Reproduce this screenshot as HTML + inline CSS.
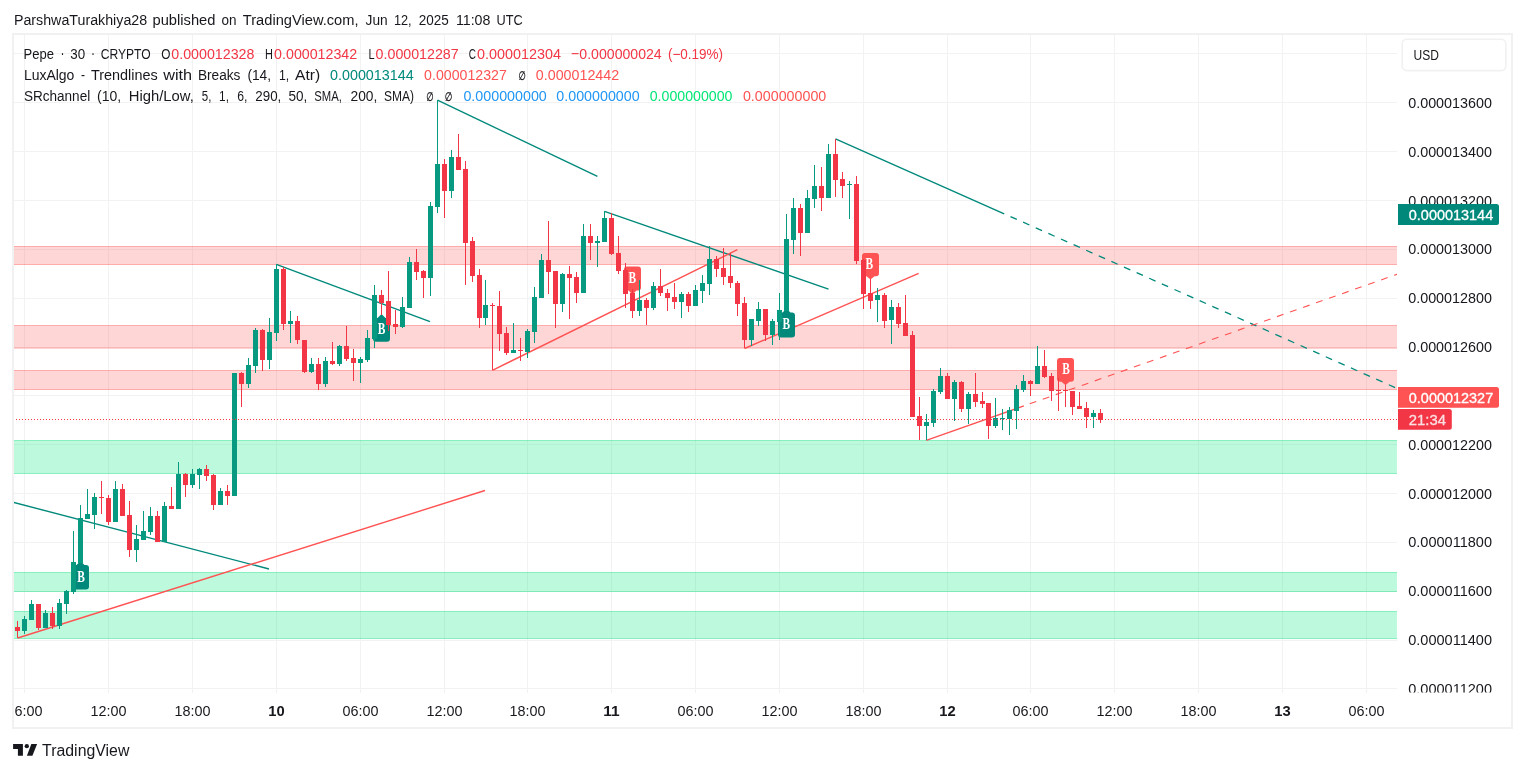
<!DOCTYPE html>
<html lang="en"><head><meta charset="utf-8"><title>Pepe 30 CRYPTO - TradingView</title>
<style>html,body{margin:0;padding:0;background:#fff;}body{width:1525px;height:772px;overflow:hidden;}svg{display:block;}text{font-family:'Liberation Sans', sans-serif;}</style>
</head><body>
<svg width="1525" height="772" viewBox="0 0 1525 772">
<defs><clipPath id="plot"><rect x="14" y="35" width="1383" height="657.6"/></clipPath>
<clipPath id="taxis"><rect x="14" y="692.6" width="1497" height="34.4"/></clipPath>
<clipPath id="paxis"><rect x="1397" y="35" width="114" height="657.6"/></clipPath></defs>
<rect x="0" y="0" width="1525" height="772" fill="#ffffff"/>
<g stroke="#f2f2f2" stroke-width="1" shape-rendering="crispEdges">
<line x1="14" y1="53.5" x2="1397" y2="53.5"/>
<line x1="14" y1="102.5" x2="1397" y2="102.5"/>
<line x1="14" y1="151.5" x2="1397" y2="151.5"/>
<line x1="14" y1="200.5" x2="1397" y2="200.5"/>
<line x1="14" y1="249.5" x2="1397" y2="249.5"/>
<line x1="14" y1="298.5" x2="1397" y2="298.5"/>
<line x1="14" y1="347.5" x2="1397" y2="347.5"/>
<line x1="14" y1="395.5" x2="1397" y2="395.5"/>
<line x1="14" y1="444.5" x2="1397" y2="444.5"/>
<line x1="14" y1="493.5" x2="1397" y2="493.5"/>
<line x1="14" y1="542.5" x2="1397" y2="542.5"/>
<line x1="14" y1="591.5" x2="1397" y2="591.5"/>
<line x1="14" y1="640.5" x2="1397" y2="640.5"/>
<line x1="24.5" y1="35" x2="24.5" y2="692.6"/>
<line x1="108.5" y1="35" x2="108.5" y2="692.6"/>
<line x1="192.5" y1="35" x2="192.5" y2="692.6"/>
<line x1="276.5" y1="35" x2="276.5" y2="692.6"/>
<line x1="360.5" y1="35" x2="360.5" y2="692.6"/>
<line x1="444.5" y1="35" x2="444.5" y2="692.6"/>
<line x1="527.5" y1="35" x2="527.5" y2="692.6"/>
<line x1="611.5" y1="35" x2="611.5" y2="692.6"/>
<line x1="695.5" y1="35" x2="695.5" y2="692.6"/>
<line x1="779.5" y1="35" x2="779.5" y2="692.6"/>
<line x1="863.5" y1="35" x2="863.5" y2="692.6"/>
<line x1="947.5" y1="35" x2="947.5" y2="692.6"/>
<line x1="1030.5" y1="35" x2="1030.5" y2="692.6"/>
<line x1="1114.5" y1="35" x2="1114.5" y2="692.6"/>
<line x1="1198.5" y1="35" x2="1198.5" y2="692.6"/>
<line x1="1282.5" y1="35" x2="1282.5" y2="692.6"/>
<line x1="1366.5" y1="35" x2="1366.5" y2="692.6"/>
<line x1="14" y1="688.5" x2="1397" y2="688.5"/>
</g>
<g clip-path="url(#plot)">
<rect x="0" y="246.0" width="1397" height="19.0" fill="rgba(255,82,82,0.24)"/>
<line x1="0" y1="246.5" x2="1397" y2="246.5" stroke="rgba(255,82,82,0.32)" stroke-width="1"/>
<line x1="0" y1="264.5" x2="1397" y2="264.5" stroke="rgba(255,82,82,0.32)" stroke-width="1"/>
<rect x="0" y="325.0" width="1397" height="23.5" fill="rgba(255,82,82,0.24)"/>
<line x1="0" y1="325.5" x2="1397" y2="325.5" stroke="rgba(255,82,82,0.32)" stroke-width="1"/>
<line x1="0" y1="348.0" x2="1397" y2="348.0" stroke="rgba(255,82,82,0.32)" stroke-width="1"/>
<rect x="0" y="370.0" width="1397" height="20.0" fill="rgba(255,82,82,0.24)"/>
<line x1="0" y1="370.5" x2="1397" y2="370.5" stroke="rgba(255,82,82,0.32)" stroke-width="1"/>
<line x1="0" y1="389.5" x2="1397" y2="389.5" stroke="rgba(255,82,82,0.32)" stroke-width="1"/>
<rect x="0" y="440.0" width="1397" height="34.0" fill="rgba(0,230,118,0.26)"/>
<line x1="0" y1="440.5" x2="1397" y2="440.5" stroke="rgba(0,220,118,0.28)" stroke-width="1"/>
<line x1="0" y1="473.5" x2="1397" y2="473.5" stroke="rgba(0,220,118,0.28)" stroke-width="1"/>
<rect x="0" y="572.0" width="1397" height="20.0" fill="rgba(0,230,118,0.26)"/>
<line x1="0" y1="572.5" x2="1397" y2="572.5" stroke="rgba(0,220,118,0.28)" stroke-width="1"/>
<line x1="0" y1="591.5" x2="1397" y2="591.5" stroke="rgba(0,220,118,0.28)" stroke-width="1"/>
<rect x="0" y="611.0" width="1397" height="28.0" fill="rgba(0,230,118,0.26)"/>
<line x1="0" y1="611.5" x2="1397" y2="611.5" stroke="rgba(0,220,118,0.28)" stroke-width="1"/>
<line x1="0" y1="638.5" x2="1397" y2="638.5" stroke="rgba(0,220,118,0.28)" stroke-width="1"/>
<line x1="12.0" y1="502.0" x2="269.0" y2="569.0" stroke="#00897b" stroke-width="1.4" stroke-linecap="butt"/>
<line x1="276.3" y1="264.4" x2="430.0" y2="321.6" stroke="#00897b" stroke-width="1.4" stroke-linecap="butt"/>
<line x1="437.5" y1="100.2" x2="597.4" y2="176.3" stroke="#00897b" stroke-width="1.4" stroke-linecap="butt"/>
<line x1="604.5" y1="211.3" x2="828.5" y2="289.2" stroke="#00897b" stroke-width="1.4" stroke-linecap="butt"/>
<line x1="835.5" y1="138.8" x2="1004.2" y2="213.8" stroke="#00897b" stroke-width="1.4" stroke-linecap="butt"/>
<line x1="1004.2" y1="213.8" x2="1397.0" y2="388.4" stroke="#00897b" stroke-width="1.3" stroke-linecap="butt" stroke-dasharray="6.9 6.9" stroke-dashoffset="6.9"/>
<line x1="17.7" y1="638.0" x2="485.0" y2="490.5" stroke="#ff5252" stroke-width="1.4" stroke-linecap="butt"/>
<line x1="492.4" y1="370.3" x2="737.4" y2="249.7" stroke="#ff5252" stroke-width="1.4" stroke-linecap="butt"/>
<line x1="744.5" y1="348.5" x2="918.7" y2="273.4" stroke="#ff5252" stroke-width="1.4" stroke-linecap="butt"/>
<line x1="926.3" y1="440.4" x2="1023.8" y2="405.9" stroke="#ff5252" stroke-width="1.4" stroke-linecap="butt"/>
<line x1="1023.8" y1="405.9" x2="1397.0" y2="274.3" stroke="#ff5252" stroke-width="1.1" stroke-linecap="butt" stroke-dasharray="6.9 6.9" stroke-dashoffset="7.5"/>
<path d="M76.5 564.9 L80.5 561.0 L84.5 564.9 L86.0 564.9 Q89.0 564.9 89.0 567.9 L89.0 586.5 Q89.0 589.5 86.0 589.5 L75.0 589.5 Q72.0 589.5 72.0 586.5 L72.0 567.9 Q72.0 564.9 75.0 564.9 Z" fill="#00897b"/>
<text x="77.3" y="582.0" font-size="16" font-weight="bold" fill="#fff" style="font-family:'Liberation Serif',serif" textLength="7.6" lengthAdjust="spacingAndGlyphs">B</text>
<path d="M377.5 318.1 L381.5 314.0 L385.5 318.1 L387.0 318.1 Q390.0 318.1 390.0 321.1 L390.0 338.8 Q390.0 341.8 387.0 341.8 L376.0 341.8 Q373.0 341.8 373.0 338.8 L373.0 321.1 Q373.0 318.1 376.0 318.1 Z" fill="#00897b"/>
<text x="377.7" y="334.0" font-size="16" font-weight="bold" fill="#fff" style="font-family:'Liberation Serif',serif" textLength="7.6" lengthAdjust="spacingAndGlyphs">B</text>
<path d="M782.5 312.6 L786.5 308.8 L790.5 312.6 L792.0 312.6 Q795.0 312.6 795.0 315.6 L795.0 334.6 Q795.0 337.6 792.0 337.6 L781.0 337.6 Q778.0 337.6 778.0 334.6 L778.0 315.6 Q778.0 312.6 781.0 312.6 Z" fill="#00897b"/>
<text x="782.4" y="328.6" font-size="16" font-weight="bold" fill="#fff" style="font-family:'Liberation Serif',serif" textLength="7.6" lengthAdjust="spacingAndGlyphs">B</text>
<path d="M627.0 266.4 L638.0 266.4 Q641.0 266.4 641.0 269.4 L641.0 287.6 Q641.0 290.6 638.0 290.6 L636.5 290.6 L632.5 294.4 L628.5 290.6 L627.0 290.6 Q624.0 290.6 624.0 287.6 L624.0 269.4 Q624.0 266.4 627.0 266.4 Z" fill="#ff5252"/>
<text x="628.6" y="282.5" font-size="16" font-weight="bold" fill="#fff" style="font-family:'Liberation Serif',serif" textLength="7.6" lengthAdjust="spacingAndGlyphs">B</text>
<path d="M865.0 253.0 L876.0 253.0 Q879.0 253.0 879.0 256.0 L879.0 273.2 Q879.0 276.2 876.0 276.2 L874.5 276.2 L870.5 279.6 L866.5 276.2 L865.0 276.2 Q862.0 276.2 862.0 273.2 L862.0 256.0 Q862.0 253.0 865.0 253.0 Z" fill="#ff5252"/>
<text x="865.5" y="268.6" font-size="16" font-weight="bold" fill="#fff" style="font-family:'Liberation Serif',serif" textLength="7.6" lengthAdjust="spacingAndGlyphs">B</text>
<path d="M1060.0 358.1 L1071.0 358.1 Q1074.0 358.1 1074.0 361.1 L1074.0 378.7 Q1074.0 381.7 1071.0 381.7 L1069.5 381.7 L1065.5 385.2 L1061.5 381.7 L1060.0 381.7 Q1057.0 381.7 1057.0 378.7 L1057.0 361.1 Q1057.0 358.1 1060.0 358.1 Z" fill="#ff5252"/>
<text x="1062.3" y="374.0" font-size="16" font-weight="bold" fill="#fff" style="font-family:'Liberation Serif',serif" textLength="7.6" lengthAdjust="spacingAndGlyphs">B</text>
<rect x="17" y="621" width="1" height="17" fill="#f23645"/>
<rect x="15" y="627" width="5" height="4" fill="#f23645"/>
<rect x="24" y="616" width="1" height="18" fill="#089981"/>
<rect x="22" y="619" width="5" height="12" fill="#089981"/>
<rect x="31" y="600" width="1" height="20" fill="#089981"/>
<rect x="29" y="604" width="5" height="16" fill="#089981"/>
<rect x="38" y="604" width="1" height="26" fill="#f23645"/>
<rect x="36" y="604" width="5" height="24" fill="#f23645"/>
<rect x="45" y="610" width="1" height="18" fill="#089981"/>
<rect x="43" y="613" width="5" height="15" fill="#089981"/>
<rect x="52" y="607" width="1" height="22" fill="#f23645"/>
<rect x="50" y="613" width="5" height="13" fill="#f23645"/>
<rect x="59" y="599" width="1" height="30" fill="#089981"/>
<rect x="57" y="603" width="5" height="23" fill="#089981"/>
<rect x="66" y="590" width="1" height="24" fill="#089981"/>
<rect x="64" y="591" width="5" height="13" fill="#089981"/>
<rect x="73" y="531" width="1" height="63" fill="#089981"/>
<rect x="71" y="562" width="5" height="30" fill="#089981"/>
<rect x="80" y="505" width="1" height="58" fill="#089981"/>
<rect x="78" y="518" width="5" height="45" fill="#089981"/>
<rect x="87" y="489" width="1" height="30" fill="#089981"/>
<rect x="85" y="514" width="5" height="5" fill="#089981"/>
<rect x="94" y="493" width="1" height="36" fill="#089981"/>
<rect x="92" y="497" width="5" height="18" fill="#089981"/>
<rect x="101" y="481" width="1" height="33" fill="#f23645"/>
<rect x="99" y="497" width="5" height="1" fill="#f23645"/>
<rect x="108" y="495" width="1" height="30" fill="#f23645"/>
<rect x="106" y="498" width="5" height="24" fill="#f23645"/>
<rect x="115" y="481" width="1" height="41" fill="#089981"/>
<rect x="113" y="489" width="5" height="33" fill="#089981"/>
<rect x="122" y="484" width="1" height="32" fill="#f23645"/>
<rect x="120" y="489" width="5" height="27" fill="#f23645"/>
<rect x="129" y="501" width="1" height="56" fill="#f23645"/>
<rect x="127" y="515" width="5" height="35" fill="#f23645"/>
<rect x="136" y="525" width="1" height="37" fill="#089981"/>
<rect x="134" y="539" width="5" height="11" fill="#089981"/>
<rect x="143" y="511" width="1" height="29" fill="#089981"/>
<rect x="141" y="531" width="5" height="9" fill="#089981"/>
<rect x="150" y="507" width="1" height="28" fill="#089981"/>
<rect x="148" y="516" width="5" height="16" fill="#089981"/>
<rect x="157" y="511" width="1" height="31" fill="#f23645"/>
<rect x="155" y="516" width="5" height="26" fill="#f23645"/>
<rect x="164" y="502" width="1" height="40" fill="#089981"/>
<rect x="162" y="506" width="5" height="36" fill="#089981"/>
<rect x="171" y="487" width="1" height="22" fill="#f23645"/>
<rect x="169" y="506" width="5" height="3" fill="#f23645"/>
<rect x="178" y="462" width="1" height="47" fill="#089981"/>
<rect x="176" y="474" width="5" height="35" fill="#089981"/>
<rect x="185" y="473" width="1" height="24" fill="#f23645"/>
<rect x="183" y="474" width="5" height="11" fill="#f23645"/>
<rect x="192" y="469" width="1" height="19" fill="#089981"/>
<rect x="190" y="474" width="5" height="11" fill="#089981"/>
<rect x="199" y="468" width="1" height="21" fill="#089981"/>
<rect x="197" y="469" width="5" height="6" fill="#089981"/>
<rect x="206" y="465" width="1" height="16" fill="#f23645"/>
<rect x="204" y="469" width="5" height="7" fill="#f23645"/>
<rect x="213" y="474" width="1" height="36" fill="#f23645"/>
<rect x="211" y="475" width="5" height="30" fill="#f23645"/>
<rect x="220" y="488" width="1" height="17" fill="#089981"/>
<rect x="218" y="491" width="5" height="14" fill="#089981"/>
<rect x="227" y="485" width="1" height="20" fill="#f23645"/>
<rect x="225" y="491" width="5" height="5" fill="#f23645"/>
<rect x="234" y="373" width="1" height="123" fill="#089981"/>
<rect x="232" y="373" width="5" height="123" fill="#089981"/>
<rect x="241" y="372" width="1" height="35" fill="#f23645"/>
<rect x="239" y="373" width="5" height="11" fill="#f23645"/>
<rect x="248" y="358" width="1" height="30" fill="#089981"/>
<rect x="246" y="365" width="5" height="19" fill="#089981"/>
<rect x="255" y="328" width="1" height="45" fill="#089981"/>
<rect x="253" y="330" width="5" height="36" fill="#089981"/>
<rect x="262" y="329" width="1" height="42" fill="#f23645"/>
<rect x="260" y="330" width="5" height="30" fill="#f23645"/>
<rect x="269" y="318" width="1" height="51" fill="#089981"/>
<rect x="267" y="332" width="5" height="28" fill="#089981"/>
<rect x="276" y="264" width="1" height="77" fill="#089981"/>
<rect x="274" y="269" width="5" height="64" fill="#089981"/>
<rect x="283" y="267" width="1" height="63" fill="#f23645"/>
<rect x="281" y="269" width="5" height="55" fill="#f23645"/>
<rect x="290" y="311" width="1" height="32" fill="#089981"/>
<rect x="288" y="321" width="5" height="3" fill="#089981"/>
<rect x="297" y="316" width="1" height="28" fill="#f23645"/>
<rect x="295" y="321" width="5" height="19" fill="#f23645"/>
<rect x="304" y="340" width="1" height="33" fill="#f23645"/>
<rect x="302" y="340" width="5" height="32" fill="#f23645"/>
<rect x="311" y="358" width="1" height="15" fill="#089981"/>
<rect x="309" y="364" width="5" height="8" fill="#089981"/>
<rect x="318" y="358" width="1" height="32" fill="#f23645"/>
<rect x="316" y="364" width="5" height="20" fill="#f23645"/>
<rect x="325" y="357" width="1" height="30" fill="#089981"/>
<rect x="323" y="361" width="5" height="23" fill="#089981"/>
<rect x="332" y="342" width="1" height="23" fill="#f23645"/>
<rect x="330" y="361" width="5" height="3" fill="#f23645"/>
<rect x="339" y="345" width="1" height="21" fill="#089981"/>
<rect x="337" y="346" width="5" height="18" fill="#089981"/>
<rect x="346" y="326" width="1" height="35" fill="#f23645"/>
<rect x="344" y="346" width="5" height="13" fill="#f23645"/>
<rect x="353" y="349" width="1" height="32" fill="#f23645"/>
<rect x="351" y="358" width="5" height="5" fill="#f23645"/>
<rect x="360" y="357" width="1" height="26" fill="#089981"/>
<rect x="358" y="359" width="5" height="4" fill="#089981"/>
<rect x="367" y="330" width="1" height="32" fill="#089981"/>
<rect x="365" y="338" width="5" height="22" fill="#089981"/>
<rect x="374" y="285" width="1" height="63" fill="#089981"/>
<rect x="372" y="295" width="5" height="44" fill="#089981"/>
<rect x="381" y="290" width="1" height="25" fill="#f23645"/>
<rect x="379" y="295" width="5" height="8" fill="#f23645"/>
<rect x="388" y="271" width="1" height="60" fill="#f23645"/>
<rect x="386" y="301" width="5" height="24" fill="#f23645"/>
<rect x="395" y="310" width="1" height="24" fill="#f23645"/>
<rect x="393" y="324" width="5" height="3" fill="#f23645"/>
<rect x="402" y="297" width="1" height="31" fill="#089981"/>
<rect x="400" y="307" width="5" height="20" fill="#089981"/>
<rect x="409" y="257" width="1" height="51" fill="#089981"/>
<rect x="407" y="262" width="5" height="46" fill="#089981"/>
<rect x="416" y="249" width="1" height="31" fill="#f23645"/>
<rect x="414" y="262" width="5" height="10" fill="#f23645"/>
<rect x="423" y="270" width="1" height="28" fill="#f23645"/>
<rect x="421" y="271" width="5" height="7" fill="#f23645"/>
<rect x="430" y="202" width="1" height="94" fill="#089981"/>
<rect x="428" y="206" width="5" height="72" fill="#089981"/>
<rect x="437" y="100" width="1" height="113" fill="#089981"/>
<rect x="435" y="164" width="5" height="43" fill="#089981"/>
<rect x="444" y="159" width="1" height="59" fill="#f23645"/>
<rect x="442" y="164" width="5" height="27" fill="#f23645"/>
<rect x="451" y="150" width="1" height="48" fill="#089981"/>
<rect x="449" y="157" width="5" height="34" fill="#089981"/>
<rect x="458" y="134" width="1" height="36" fill="#f23645"/>
<rect x="456" y="157" width="5" height="13" fill="#f23645"/>
<rect x="465" y="161" width="1" height="124" fill="#f23645"/>
<rect x="463" y="169" width="5" height="74" fill="#f23645"/>
<rect x="472" y="237" width="1" height="45" fill="#f23645"/>
<rect x="470" y="241" width="5" height="35" fill="#f23645"/>
<rect x="479" y="269" width="1" height="59" fill="#f23645"/>
<rect x="477" y="275" width="5" height="43" fill="#f23645"/>
<rect x="485" y="280" width="1" height="45" fill="#089981"/>
<rect x="483" y="305" width="5" height="13" fill="#089981"/>
<rect x="492" y="303" width="1" height="67" fill="#f23645"/>
<rect x="490" y="305" width="5" height="1" fill="#f23645"/>
<rect x="499" y="291" width="1" height="60" fill="#f23645"/>
<rect x="497" y="306" width="5" height="28" fill="#f23645"/>
<rect x="506" y="327" width="1" height="28" fill="#f23645"/>
<rect x="504" y="333" width="5" height="20" fill="#f23645"/>
<rect x="513" y="323" width="1" height="30" fill="#089981"/>
<rect x="511" y="350" width="5" height="3" fill="#089981"/>
<rect x="520" y="338" width="1" height="23" fill="#f23645"/>
<rect x="518" y="350" width="5" height="1" fill="#f23645"/>
<rect x="527" y="329" width="1" height="29" fill="#089981"/>
<rect x="525" y="331" width="5" height="21" fill="#089981"/>
<rect x="534" y="287" width="1" height="56" fill="#089981"/>
<rect x="532" y="297" width="5" height="35" fill="#089981"/>
<rect x="541" y="254" width="1" height="44" fill="#089981"/>
<rect x="539" y="260" width="5" height="38" fill="#089981"/>
<rect x="548" y="221" width="1" height="73" fill="#f23645"/>
<rect x="546" y="260" width="5" height="12" fill="#f23645"/>
<rect x="555" y="271" width="1" height="57" fill="#f23645"/>
<rect x="553" y="271" width="5" height="33" fill="#f23645"/>
<rect x="562" y="273" width="1" height="39" fill="#089981"/>
<rect x="560" y="274" width="5" height="30" fill="#089981"/>
<rect x="569" y="266" width="1" height="53" fill="#f23645"/>
<rect x="567" y="274" width="5" height="4" fill="#f23645"/>
<rect x="576" y="272" width="1" height="31" fill="#f23645"/>
<rect x="574" y="277" width="5" height="16" fill="#f23645"/>
<rect x="583" y="224" width="1" height="69" fill="#089981"/>
<rect x="581" y="236" width="5" height="57" fill="#089981"/>
<rect x="590" y="224" width="1" height="36" fill="#f23645"/>
<rect x="588" y="236" width="5" height="7" fill="#f23645"/>
<rect x="597" y="236" width="1" height="31" fill="#089981"/>
<rect x="595" y="241" width="5" height="2" fill="#089981"/>
<rect x="604" y="211" width="1" height="31" fill="#089981"/>
<rect x="602" y="218" width="5" height="24" fill="#089981"/>
<rect x="611" y="213" width="1" height="42" fill="#f23645"/>
<rect x="609" y="218" width="5" height="36" fill="#f23645"/>
<rect x="618" y="236" width="1" height="38" fill="#f23645"/>
<rect x="616" y="253" width="5" height="18" fill="#f23645"/>
<rect x="625" y="263" width="1" height="45" fill="#f23645"/>
<rect x="623" y="270" width="5" height="24" fill="#f23645"/>
<rect x="632" y="289" width="1" height="29" fill="#f23645"/>
<rect x="630" y="293" width="5" height="18" fill="#f23645"/>
<rect x="639" y="280" width="1" height="36" fill="#089981"/>
<rect x="637" y="300" width="5" height="11" fill="#089981"/>
<rect x="646" y="298" width="1" height="27" fill="#f23645"/>
<rect x="644" y="300" width="5" height="8" fill="#f23645"/>
<rect x="653" y="282" width="1" height="28" fill="#089981"/>
<rect x="651" y="286" width="5" height="22" fill="#089981"/>
<rect x="660" y="269" width="1" height="27" fill="#f23645"/>
<rect x="658" y="286" width="5" height="7" fill="#f23645"/>
<rect x="667" y="289" width="1" height="22" fill="#f23645"/>
<rect x="665" y="293" width="5" height="5" fill="#f23645"/>
<rect x="674" y="283" width="1" height="26" fill="#f23645"/>
<rect x="672" y="297" width="5" height="5" fill="#f23645"/>
<rect x="681" y="292" width="1" height="26" fill="#089981"/>
<rect x="679" y="294" width="5" height="8" fill="#089981"/>
<rect x="688" y="292" width="1" height="20" fill="#f23645"/>
<rect x="686" y="294" width="5" height="12" fill="#f23645"/>
<rect x="695" y="285" width="1" height="21" fill="#089981"/>
<rect x="693" y="290" width="5" height="16" fill="#089981"/>
<rect x="702" y="275" width="1" height="28" fill="#089981"/>
<rect x="700" y="283" width="5" height="8" fill="#089981"/>
<rect x="709" y="246" width="1" height="49" fill="#089981"/>
<rect x="707" y="259" width="5" height="25" fill="#089981"/>
<rect x="716" y="256" width="1" height="21" fill="#f23645"/>
<rect x="714" y="259" width="5" height="10" fill="#f23645"/>
<rect x="723" y="248" width="1" height="37" fill="#f23645"/>
<rect x="721" y="268" width="5" height="9" fill="#f23645"/>
<rect x="730" y="253" width="1" height="35" fill="#f23645"/>
<rect x="728" y="276" width="5" height="7" fill="#f23645"/>
<rect x="737" y="281" width="1" height="35" fill="#f23645"/>
<rect x="735" y="283" width="5" height="21" fill="#f23645"/>
<rect x="744" y="297" width="1" height="51" fill="#f23645"/>
<rect x="742" y="303" width="5" height="37" fill="#f23645"/>
<rect x="751" y="319" width="1" height="27" fill="#089981"/>
<rect x="749" y="319" width="5" height="21" fill="#089981"/>
<rect x="758" y="302" width="1" height="24" fill="#089981"/>
<rect x="756" y="309" width="5" height="12" fill="#089981"/>
<rect x="765" y="309" width="1" height="32" fill="#f23645"/>
<rect x="763" y="309" width="5" height="26" fill="#f23645"/>
<rect x="772" y="319" width="1" height="26" fill="#089981"/>
<rect x="770" y="321" width="5" height="14" fill="#089981"/>
<rect x="779" y="293" width="1" height="47" fill="#089981"/>
<rect x="777" y="310" width="5" height="12" fill="#089981"/>
<rect x="786" y="214" width="1" height="97" fill="#089981"/>
<rect x="784" y="239" width="5" height="72" fill="#089981"/>
<rect x="793" y="198" width="1" height="56" fill="#089981"/>
<rect x="791" y="208" width="5" height="32" fill="#089981"/>
<rect x="800" y="204" width="1" height="52" fill="#f23645"/>
<rect x="798" y="208" width="5" height="25" fill="#f23645"/>
<rect x="807" y="190" width="1" height="43" fill="#089981"/>
<rect x="805" y="198" width="5" height="35" fill="#089981"/>
<rect x="814" y="165" width="1" height="43" fill="#089981"/>
<rect x="812" y="186" width="5" height="13" fill="#089981"/>
<rect x="821" y="167" width="1" height="44" fill="#f23645"/>
<rect x="819" y="186" width="5" height="12" fill="#f23645"/>
<rect x="828" y="144" width="1" height="54" fill="#089981"/>
<rect x="826" y="154" width="5" height="44" fill="#089981"/>
<rect x="835" y="139" width="1" height="58" fill="#f23645"/>
<rect x="833" y="154" width="5" height="26" fill="#f23645"/>
<rect x="842" y="172" width="1" height="26" fill="#f23645"/>
<rect x="840" y="179" width="5" height="7" fill="#f23645"/>
<rect x="849" y="181" width="1" height="38" fill="#089981"/>
<rect x="847" y="184" width="5" height="1" fill="#089981"/>
<rect x="856" y="176" width="1" height="88" fill="#f23645"/>
<rect x="854" y="184" width="5" height="77" fill="#f23645"/>
<rect x="863" y="259" width="1" height="50" fill="#f23645"/>
<rect x="861" y="260" width="5" height="34" fill="#f23645"/>
<rect x="870" y="279" width="1" height="30" fill="#f23645"/>
<rect x="868" y="293" width="5" height="8" fill="#f23645"/>
<rect x="877" y="288" width="1" height="34" fill="#089981"/>
<rect x="875" y="295" width="5" height="5" fill="#089981"/>
<rect x="884" y="293" width="1" height="35" fill="#f23645"/>
<rect x="882" y="295" width="5" height="26" fill="#f23645"/>
<rect x="891" y="300" width="1" height="44" fill="#089981"/>
<rect x="889" y="307" width="5" height="13" fill="#089981"/>
<rect x="898" y="303" width="1" height="25" fill="#f23645"/>
<rect x="896" y="307" width="5" height="17" fill="#f23645"/>
<rect x="905" y="295" width="1" height="41" fill="#f23645"/>
<rect x="903" y="323" width="5" height="13" fill="#f23645"/>
<rect x="912" y="331" width="1" height="86" fill="#f23645"/>
<rect x="910" y="335" width="5" height="82" fill="#f23645"/>
<rect x="919" y="397" width="1" height="43" fill="#f23645"/>
<rect x="917" y="416" width="5" height="10" fill="#f23645"/>
<rect x="926" y="414" width="1" height="26" fill="#089981"/>
<rect x="924" y="422" width="5" height="4" fill="#089981"/>
<rect x="933" y="389" width="1" height="38" fill="#089981"/>
<rect x="931" y="391" width="5" height="32" fill="#089981"/>
<rect x="940" y="368" width="1" height="26" fill="#089981"/>
<rect x="938" y="376" width="5" height="16" fill="#089981"/>
<rect x="947" y="373" width="1" height="26" fill="#f23645"/>
<rect x="945" y="376" width="5" height="23" fill="#f23645"/>
<rect x="954" y="380" width="1" height="41" fill="#089981"/>
<rect x="952" y="382" width="5" height="17" fill="#089981"/>
<rect x="961" y="381" width="1" height="31" fill="#f23645"/>
<rect x="959" y="382" width="5" height="27" fill="#f23645"/>
<rect x="968" y="392" width="1" height="32" fill="#089981"/>
<rect x="966" y="394" width="5" height="15" fill="#089981"/>
<rect x="975" y="373" width="1" height="34" fill="#f23645"/>
<rect x="973" y="394" width="5" height="8" fill="#f23645"/>
<rect x="982" y="392" width="1" height="16" fill="#f23645"/>
<rect x="980" y="401" width="5" height="3" fill="#f23645"/>
<rect x="988" y="403" width="1" height="36" fill="#f23645"/>
<rect x="986" y="403" width="5" height="23" fill="#f23645"/>
<rect x="995" y="398" width="1" height="30" fill="#089981"/>
<rect x="993" y="418" width="5" height="8" fill="#089981"/>
<rect x="1002" y="409" width="1" height="21" fill="#089981"/>
<rect x="1000" y="418" width="5" height="1" fill="#089981"/>
<rect x="1009" y="407" width="1" height="28" fill="#089981"/>
<rect x="1007" y="410" width="5" height="9" fill="#089981"/>
<rect x="1016" y="385" width="1" height="44" fill="#089981"/>
<rect x="1014" y="389" width="5" height="22" fill="#089981"/>
<rect x="1023" y="375" width="1" height="17" fill="#089981"/>
<rect x="1021" y="381" width="5" height="9" fill="#089981"/>
<rect x="1030" y="380" width="1" height="16" fill="#f23645"/>
<rect x="1028" y="381" width="5" height="3" fill="#f23645"/>
<rect x="1037" y="346" width="1" height="38" fill="#089981"/>
<rect x="1035" y="366" width="5" height="18" fill="#089981"/>
<rect x="1044" y="350" width="1" height="28" fill="#f23645"/>
<rect x="1042" y="366" width="5" height="11" fill="#f23645"/>
<rect x="1051" y="373" width="1" height="28" fill="#f23645"/>
<rect x="1049" y="376" width="5" height="15" fill="#f23645"/>
<rect x="1058" y="378" width="1" height="33" fill="#f23645"/>
<rect x="1056" y="390" width="5" height="1" fill="#f23645"/>
<rect x="1065" y="385" width="1" height="22" fill="#f23645"/>
<rect x="1063" y="390" width="5" height="1" fill="#f23645"/>
<rect x="1072" y="391" width="1" height="24" fill="#f23645"/>
<rect x="1070" y="391" width="5" height="16" fill="#f23645"/>
<rect x="1079" y="392" width="1" height="17" fill="#f23645"/>
<rect x="1077" y="406" width="5" height="3" fill="#f23645"/>
<rect x="1086" y="402" width="1" height="26" fill="#f23645"/>
<rect x="1084" y="408" width="5" height="9" fill="#f23645"/>
<rect x="1093" y="410" width="1" height="18" fill="#089981"/>
<rect x="1091" y="413" width="5" height="4" fill="#089981"/>
<rect x="1100" y="409" width="1" height="14" fill="#f23645"/>
<rect x="1098" y="413" width="5" height="7" fill="#f23645"/>
<line x1="16" y1="419.5" x2="1397" y2="419.5" stroke="#f23645" stroke-width="1" stroke-dasharray="1 2" shape-rendering="crispEdges"/>
</g>
<rect x="13" y="34" width="1499" height="694" fill="none" stroke="#f1f1f2" stroke-width="2"/>
<g clip-path="url(#paxis)" font-size="15.4" fill="#17181d">
<text x="1408.2" y="107.9" textLength="83.8" lengthAdjust="spacingAndGlyphs">0.000013600</text>
<text x="1408.2" y="156.7" textLength="83.8" lengthAdjust="spacingAndGlyphs">0.000013400</text>
<text x="1408.2" y="205.5" textLength="83.8" lengthAdjust="spacingAndGlyphs">0.000013200</text>
<text x="1408.2" y="254.4" textLength="83.8" lengthAdjust="spacingAndGlyphs">0.000013000</text>
<text x="1408.2" y="303.2" textLength="83.8" lengthAdjust="spacingAndGlyphs">0.000012800</text>
<text x="1408.2" y="352.0" textLength="83.8" lengthAdjust="spacingAndGlyphs">0.000012600</text>
<text x="1408.2" y="449.6" textLength="83.8" lengthAdjust="spacingAndGlyphs">0.000012200</text>
<text x="1408.2" y="498.5" textLength="83.8" lengthAdjust="spacingAndGlyphs">0.000012000</text>
<text x="1408.2" y="547.3" textLength="83.8" lengthAdjust="spacingAndGlyphs">0.000011800</text>
<text x="1408.2" y="596.1" textLength="83.8" lengthAdjust="spacingAndGlyphs">0.000011600</text>
<text x="1408.2" y="644.9" textLength="83.8" lengthAdjust="spacingAndGlyphs">0.000011400</text>
<text x="1408.2" y="693.7" textLength="83.8" lengthAdjust="spacingAndGlyphs">0.000011200</text>
</g>
<path d="M1398.0 204.0 L1496.5 204.0 Q1499.0 204.0 1499.0 206.5 L1499.0 222.5 Q1499.0 225.0 1496.5 225.0 L1398.0 225.0 Z" fill="#00897b"/>
<text x="1408.8" y="219.8" font-size="15.4" fill="#fff" stroke="#fff" stroke-width="0.35" textLength="84.4" lengthAdjust="spacingAndGlyphs">0.000013144</text>
<path d="M1398.0 387.1 L1496.5 387.1 Q1499.0 387.1 1499.0 389.6 L1499.0 405.2 Q1499.0 407.7 1496.5 407.7 L1398.0 407.7 Z" fill="#ff5252"/>
<text x="1408.8" y="402.9" font-size="15.4" fill="#fff" stroke="#fff" stroke-width="0.35" textLength="84.4" lengthAdjust="spacingAndGlyphs">0.000012327</text>
<path d="M1398.0 409.1 L1449.3 409.1 Q1451.8 409.1 1451.8 411.6 L1451.8 427.2 Q1451.8 429.7 1449.3 429.7 L1398.0 429.7 Z" fill="#f23645"/>
<text x="1408.8" y="425.0" font-size="15.4" fill="#fcdfe2" stroke="#fcdfe2" stroke-width="0.3" textLength="37.1" lengthAdjust="spacingAndGlyphs">21:34</text>
<rect x="1402.2" y="39.2" width="103.6" height="31.4" rx="4.5" ry="4.5" fill="#fff" stroke="#f1f1f2" stroke-width="1.6"/>
<text x="1413.6" y="59.9" font-size="15.4" fill="#17181d" textLength="25.4" lengthAdjust="spacingAndGlyphs">USD</text>
<g clip-path="url(#taxis)" font-size="15" fill="#17181d" text-anchor="middle">
<text x="24.5" y="716.2" textLength="36" lengthAdjust="spacingAndGlyphs">06:00</text>
<text x="108.5" y="716.2" textLength="36" lengthAdjust="spacingAndGlyphs">12:00</text>
<text x="192.5" y="716.2" textLength="36" lengthAdjust="spacingAndGlyphs">18:00</text>
<text x="276.5" y="716.2" font-weight="bold" textLength="16.4" lengthAdjust="spacingAndGlyphs">10</text>
<text x="360.5" y="716.2" textLength="36" lengthAdjust="spacingAndGlyphs">06:00</text>
<text x="444.5" y="716.2" textLength="36" lengthAdjust="spacingAndGlyphs">12:00</text>
<text x="527.5" y="716.2" textLength="36" lengthAdjust="spacingAndGlyphs">18:00</text>
<text x="611.5" y="716.2" font-weight="bold" textLength="16.4" lengthAdjust="spacingAndGlyphs">11</text>
<text x="695.5" y="716.2" textLength="36" lengthAdjust="spacingAndGlyphs">06:00</text>
<text x="779.5" y="716.2" textLength="36" lengthAdjust="spacingAndGlyphs">12:00</text>
<text x="863.5" y="716.2" textLength="36" lengthAdjust="spacingAndGlyphs">18:00</text>
<text x="947.5" y="716.2" font-weight="bold" textLength="16.4" lengthAdjust="spacingAndGlyphs">12</text>
<text x="1030.5" y="716.2" textLength="36" lengthAdjust="spacingAndGlyphs">06:00</text>
<text x="1114.5" y="716.2" textLength="36" lengthAdjust="spacingAndGlyphs">12:00</text>
<text x="1198.5" y="716.2" textLength="36" lengthAdjust="spacingAndGlyphs">18:00</text>
<text x="1282.5" y="716.2" font-weight="bold" textLength="16.4" lengthAdjust="spacingAndGlyphs">13</text>
<text x="1366.5" y="716.2" textLength="36" lengthAdjust="spacingAndGlyphs">06:00</text>
</g>
<text y="24.8" font-size="14" fill="#17181d"><tspan x="13.9" textLength="133.3" lengthAdjust="spacingAndGlyphs">ParshwaTurakhiya28</tspan> <tspan x="152.5" textLength="62.9" lengthAdjust="spacingAndGlyphs">published</tspan> <tspan x="221.6" textLength="15.0" lengthAdjust="spacingAndGlyphs">on</tspan> <tspan x="242.8" textLength="115.7" lengthAdjust="spacingAndGlyphs">TradingView.com,</tspan> <tspan x="365.6" textLength="22.1" lengthAdjust="spacingAndGlyphs">Jun</tspan> <tspan x="393.9" textLength="17.7" lengthAdjust="spacingAndGlyphs">12,</tspan> <tspan x="418.7" textLength="30.1" lengthAdjust="spacingAndGlyphs">2025</tspan> <tspan x="455.9" textLength="34.5" lengthAdjust="spacingAndGlyphs">11:08</tspan> <tspan x="496.6" textLength="26.2" lengthAdjust="spacingAndGlyphs">UTC</tspan></text>
<text y="58.5" font-size="14" fill="#17181d"><tspan x="23.6" font-size="14" fill="#17181d" textLength="30.4" lengthAdjust="spacingAndGlyphs">Pepe</tspan> <tspan x="60.5" font-size="16" fill="#17181d" textLength="4.0" lengthAdjust="spacingAndGlyphs">·</tspan> <tspan x="70.2" font-size="14" fill="#17181d" textLength="14.9" lengthAdjust="spacingAndGlyphs">30</tspan> <tspan x="90.9" font-size="16" fill="#17181d" textLength="4.0" lengthAdjust="spacingAndGlyphs">·</tspan> <tspan x="100.7" font-size="14" fill="#17181d" textLength="50.0" lengthAdjust="spacingAndGlyphs">CRYPTO</tspan> <tspan x="161.3" font-size="14" fill="#17181d" textLength="9.2" lengthAdjust="spacingAndGlyphs">O</tspan><tspan x="171.3" font-size="15.4" fill="#f23645" textLength="83.1" lengthAdjust="spacingAndGlyphs">0.000012328</tspan> <tspan x="264.9" font-size="14" fill="#17181d" textLength="7.9" lengthAdjust="spacingAndGlyphs">H</tspan><tspan x="274.1" font-size="15.4" fill="#f23645" textLength="83.1" lengthAdjust="spacingAndGlyphs">0.000012342</tspan> <tspan x="368.5" font-size="14" fill="#17181d" textLength="6.1" lengthAdjust="spacingAndGlyphs">L</tspan><tspan x="375.6" font-size="15.4" fill="#f23645" textLength="83.1" lengthAdjust="spacingAndGlyphs">0.000012287</tspan> <tspan x="468.8" font-size="14" fill="#17181d" textLength="7.2" lengthAdjust="spacingAndGlyphs">C</tspan><tspan x="476.9" font-size="15.4" fill="#f23645" textLength="84.1" lengthAdjust="spacingAndGlyphs">0.000012304</tspan> <tspan x="571.1" font-size="15.4" fill="#f23645" textLength="90.6" lengthAdjust="spacingAndGlyphs">−0.000000024</tspan> <tspan x="668.0" font-size="14" fill="#f23645" textLength="55.1" lengthAdjust="spacingAndGlyphs">(−0.19%)</tspan></text>
<text y="79.8" font-size="14" fill="#17181d"><tspan x="23.9" font-size="14" fill="#17181d" textLength="50.5" lengthAdjust="spacingAndGlyphs">LuxAlgo</tspan> <tspan x="81.0" font-size="14" fill="#17181d" textLength="4.0" lengthAdjust="spacingAndGlyphs">-</tspan> <tspan x="90.9" font-size="14" fill="#17181d" textLength="66.8" lengthAdjust="spacingAndGlyphs">Trendlines</tspan> <tspan x="163.2" font-size="14" fill="#17181d" textLength="28.9" lengthAdjust="spacingAndGlyphs">with</tspan> <tspan x="197.9" font-size="14" fill="#17181d" textLength="42.5" lengthAdjust="spacingAndGlyphs">Breaks</tspan> <tspan x="247.4" font-size="14" fill="#17181d" textLength="23.7" lengthAdjust="spacingAndGlyphs">(14,</tspan> <tspan x="278.9" font-size="14" fill="#17181d" textLength="10.2" lengthAdjust="spacingAndGlyphs">1,</tspan> <tspan x="295.1" font-size="14" fill="#17181d" textLength="25.2" lengthAdjust="spacingAndGlyphs">Atr)</tspan> <tspan x="330.0" font-size="15.4" fill="#00897b" textLength="83.7" lengthAdjust="spacingAndGlyphs">0.000013144</tspan> <tspan x="424.1" font-size="15.4" fill="#ff5252" textLength="82.7" lengthAdjust="spacingAndGlyphs">0.000012327</tspan> <tspan x="518.5" font-size="12" fill="#17181d" textLength="7.1" lengthAdjust="spacingAndGlyphs" font-family="'DejaVu Sans', sans-serif" stroke="#17181d" stroke-width="0.3">∅</tspan> <tspan x="535.8" font-size="15.4" fill="#ff5252" textLength="83.4" lengthAdjust="spacingAndGlyphs">0.000012442</tspan></text>
<text y="100.9" font-size="14" fill="#17181d"><tspan x="23.9" font-size="14" fill="#17181d" textLength="66.3" lengthAdjust="spacingAndGlyphs">SRchannel</tspan> <tspan x="97.1" font-size="14" fill="#17181d" textLength="24.1" lengthAdjust="spacingAndGlyphs">(10,</tspan> <tspan x="128.8" font-size="14" fill="#17181d" textLength="65.0" lengthAdjust="spacingAndGlyphs">High/Low,</tspan> <tspan x="201.8" font-size="14" fill="#17181d" textLength="9.6" lengthAdjust="spacingAndGlyphs">5,</tspan> <tspan x="219.1" font-size="14" fill="#17181d" textLength="9.9" lengthAdjust="spacingAndGlyphs">1,</tspan> <tspan x="237.2" font-size="14" fill="#17181d" textLength="10.2" lengthAdjust="spacingAndGlyphs">6,</tspan> <tspan x="255.3" font-size="14" fill="#17181d" textLength="26.0" lengthAdjust="spacingAndGlyphs">290,</tspan> <tspan x="288.4" font-size="14" fill="#17181d" textLength="18.8" lengthAdjust="spacingAndGlyphs">50,</tspan> <tspan x="314.3" font-size="14" fill="#17181d" textLength="27.6" lengthAdjust="spacingAndGlyphs">SMA,</tspan> <tspan x="350.5" font-size="14" fill="#17181d" textLength="26.8" lengthAdjust="spacingAndGlyphs">200,</tspan> <tspan x="383.9" font-size="14" fill="#17181d" textLength="30.0" lengthAdjust="spacingAndGlyphs">SMA)</tspan> <tspan x="426.3" font-size="12" fill="#17181d" textLength="7.2" lengthAdjust="spacingAndGlyphs" font-family="'DejaVu Sans', sans-serif" stroke="#17181d" stroke-width="0.3">∅</tspan> <tspan x="444.8" font-size="12" fill="#17181d" textLength="7.4" lengthAdjust="spacingAndGlyphs" font-family="'DejaVu Sans', sans-serif" stroke="#17181d" stroke-width="0.3">∅</tspan> <tspan x="463.4" font-size="15.4" fill="#2196f3" textLength="83.4" lengthAdjust="spacingAndGlyphs">0.000000000</tspan> <tspan x="556.3" font-size="15.4" fill="#2196f3" textLength="83.4" lengthAdjust="spacingAndGlyphs">0.000000000</tspan> <tspan x="649.7" font-size="15.4" fill="#00e676" textLength="82.8" lengthAdjust="spacingAndGlyphs">0.000000000</tspan> <tspan x="742.9" font-size="15.4" fill="#ff5252" textLength="83.4" lengthAdjust="spacingAndGlyphs">0.000000000</tspan></text>
<g fill="#16181d">
<path d="M13.1 744 H22.9 V755.7 H17.9 V749 H13.1 Z"/>
<circle cx="26.8" cy="746.2" r="2.15"/>
<path d="M31.3 744 H37.1 L32.4 755.7 H26.9 Z"/>
</g>
<text x="42.1" y="755.6" font-size="15.8" fill="#16181d" textLength="87.3" lengthAdjust="spacingAndGlyphs">TradingView</text>
</svg>
</body></html>
